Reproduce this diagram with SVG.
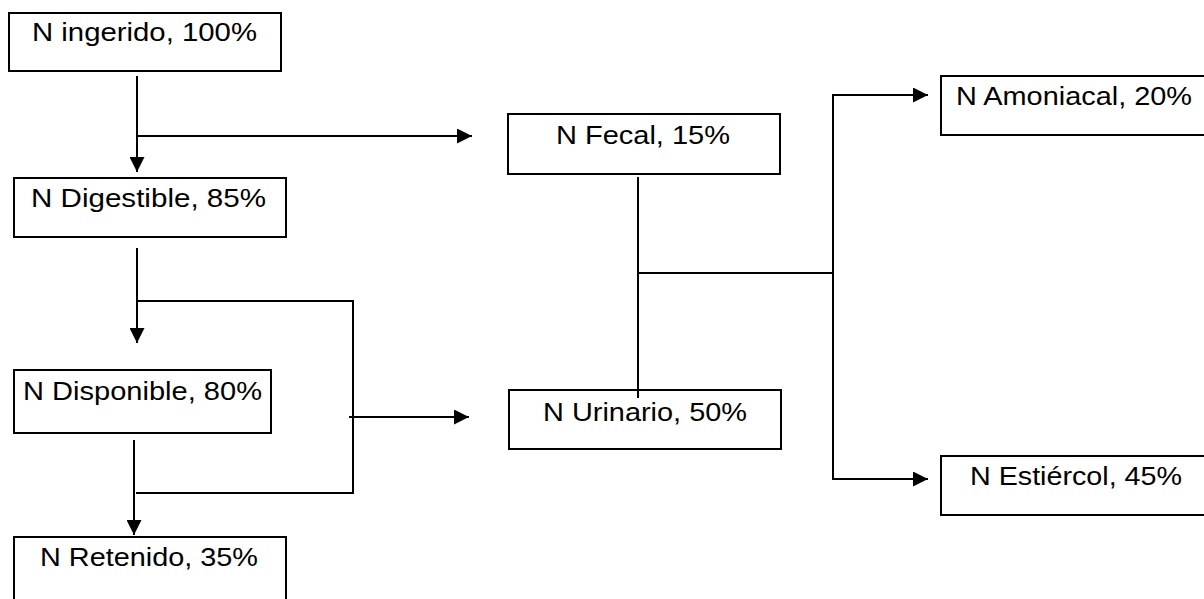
<svg xmlns="http://www.w3.org/2000/svg" width="1204" height="599" viewBox="0 0 1204 599">
  <defs>
    <style>
      .box { fill: none; stroke: #000000; stroke-width: 2; }
      .lbl { font-family: "Liberation Sans", Arial, sans-serif; font-size: 26px; fill: #000000; }
      .ln { fill: none; stroke: #000000; stroke-width: 2; }
    </style>
    <marker id="arr" markerUnits="userSpaceOnUse" markerWidth="15" markerHeight="15" refX="15" refY="7.5" orient="auto">
      <path d="M0,0 L15,7.5 L0,15 Z" fill="#000000"/>
    </marker>
  </defs>
  <rect width="1204" height="599" fill="#ffffff"/>

  <g id="connectors">
    <line class="ln" x1="137" y1="76" x2="137" y2="172" marker-end="url(#arr)"/>
    <line class="ln" x1="137" y1="136" x2="472" y2="136" marker-end="url(#arr)"/>
    <line class="ln" x1="137" y1="248" x2="137" y2="343" marker-end="url(#arr)"/>
    <polyline class="ln" points="137,301 353,301 353,493 136,493"/>
    <line class="ln" x1="349" y1="417" x2="469" y2="417" marker-end="url(#arr)"/>
    <line class="ln" x1="134" y1="440" x2="134" y2="535" marker-end="url(#arr)"/>
    <line class="ln" x1="638" y1="177" x2="638" y2="398"/>
    <line class="ln" x1="639" y1="273" x2="833" y2="273"/>
    <line class="ln" x1="833" y1="94" x2="833" y2="480"/>
    <line class="ln" x1="832" y1="95" x2="928" y2="95" marker-end="url(#arr)"/>
    <line class="ln" x1="832" y1="479" x2="928" y2="479" marker-end="url(#arr)"/>
  </g>

  <g id="n-ingerido">
    <rect class="box" x="9" y="13" width="272" height="58"/>
    <text class="lbl" x="32" y="41" textLength="225" lengthAdjust="spacingAndGlyphs">N ingerido, 100%</text>
  </g>
  <g id="n-digestible">
    <rect class="box" x="14" y="178" width="272" height="59"/>
    <text class="lbl" x="31" y="207" textLength="235" lengthAdjust="spacingAndGlyphs">N Digestible, 85%</text>
  </g>
  <g id="n-disponible">
    <rect class="box" x="14" y="370" width="257" height="63"/>
    <text class="lbl" x="23" y="400" textLength="239" lengthAdjust="spacingAndGlyphs">N Disponible, 80%</text>
  </g>
  <g id="n-retenido">
    <rect class="box" x="14" y="537" width="272" height="70"/>
    <text class="lbl" x="40" y="566" textLength="218" lengthAdjust="spacingAndGlyphs">N Retenido, 35%</text>
  </g>
  <g id="n-fecal">
    <rect class="box" x="508" y="114" width="272" height="60"/>
    <text class="lbl" x="556" y="144" textLength="174" lengthAdjust="spacingAndGlyphs">N Fecal, 15%</text>
  </g>
  <g id="n-urinario">
    <rect class="box" x="509" y="390" width="272" height="59"/>
    <text class="lbl" x="543" y="421" textLength="204" lengthAdjust="spacingAndGlyphs">N Urinario, 50%</text>
  </g>
  <g id="n-amoniacal">
    <rect class="box" x="941" y="76" width="272" height="59"/>
    <text class="lbl" x="956" y="105" textLength="236" lengthAdjust="spacingAndGlyphs">N Amoniacal, 20%</text>
  </g>
  <g id="n-estiercol">
    <rect class="box" x="941" y="456" width="272" height="59"/>
    <text class="lbl" x="970" y="485" textLength="212" lengthAdjust="spacingAndGlyphs">N Estiércol, 45%</text>
  </g>
</svg>
